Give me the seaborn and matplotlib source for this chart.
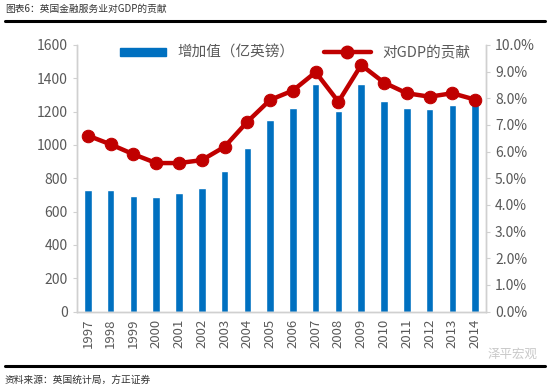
import numpy as np
import pandas as pd
import seaborn as sns
import matplotlib.pyplot as plt
from matplotlib.lines import Line2D
from matplotlib.patches import Patch
from matplotlib.ticker import FuncFormatter

years = ['1997', '1998', '1999', '2000', '2001', '2002', '2003', '2004', '2005',
         '2006', '2007', '2008', '2009', '2010', '2011', '2012', '2013', '2014']
value_added = [730, 730, 695, 690, 710, 740, 845, 980, 1150,
               1220, 1365, 1205, 1365, 1265, 1220, 1215, 1240, 1255]
gdp_share = [6.6, 6.27, 5.9, 5.57, 5.57, 5.68, 6.18, 7.12, 7.94,
             8.29, 8.98, 7.87, 9.25, 8.59, 8.19, 8.06, 8.19, 7.95]

df = pd.DataFrame({'year': years, 'value': value_added, 'share': gdp_share})
df['pos'] = np.arange(len(years))

sns.set_style('white')
plt.rcParams['font.family'] = ['Noto Sans CJK SC', 'DejaVu Sans']

blue = '#0070C0'
red = '#C00000'
grey = '#595959'
spine_c = '#D0D0D0'

f = plt.figure(figsize = (5.5, 3.9), dpi = 100)
ax = f.add_axes([77/550, 1 - 311.5/390, (486 - 77)/550, (311.5 - 45)/390])

sns.barplot(x = 'year', y = 'value', data = df, color = blue, saturation = 1, width = 0.33, ax = ax)
ax.set_ylim(0, 1600)
ax.set_yticks(range(0, 1601, 200))
ax.set_xlim(-0.48, len(years) - 0.52)
ax.set_xlabel('')
ax.set_ylabel('')
ax.tick_params(axis = 'y', labelsize = 10, colors = grey, length = 3, width = 0.8, direction = 'out', left = True)
ax.tick_params(axis = 'x', labelsize = 9.5, colors = grey, rotation = 90, length = 0, pad = 5)
ax.tick_params(axis = 'y', color = spine_c)

ax2 = ax.twinx()
sns.lineplot(x = 'pos', y = 'share', data = df, ax = ax2, color = red, linewidth = 3.2,
             marker = 'o', markersize = 9, markeredgecolor = red)
ax2.set_ylim(0, 10)
ax2.set_yticks(range(0, 11))
ax2.yaxis.set_major_formatter(FuncFormatter(lambda v, p: '%.1f%%' % v))
ax2.set_xlabel('')
ax2.set_ylabel('')
ax2.tick_params(axis = 'y', labelsize = 10, colors = grey, length = 3, width = 0.8, right = True)
ax2.tick_params(axis = 'y', color = spine_c)

for a in (ax, ax2):
    a.spines['top'].set_visible(False)
    for s in ('left', 'right', 'bottom'):
        a.spines[s].set_color(spine_c)
        a.spines[s].set_linewidth(1.0)

handles = [Patch(facecolor = blue, edgecolor = blue),
           Line2D([0], [0], color = red, linewidth = 3.2, marker = 'o', markersize = 9)]
labels = ['增加值（亿英镑）', '对GDP的贡献']
f.legend(handles, labels, loc = 'center', bbox_to_anchor = (295/550, 1 - 53/390), ncol = 2,
         frameon = False, fontsize = 10.5, handlelength = 3.2, handleheight = 0.5,
         columnspacing = 2.0, labelcolor = grey)

# header / footer
f.text(5/550, 1 - 9/390, '图表6：英国金融服务业对GDP的贡献', fontsize = 7, color = '#333333', va = 'center', ha = 'left')
f.add_artist(Line2D([5/550, 545/550], [1 - 21/390, 1 - 21/390], color = 'black', linewidth = 2.2))
f.add_artist(Line2D([5/550, 545/550], [1 - 366/390, 1 - 366/390], color = 'black', linewidth = 2.2))
f.text(5/550, 1 - 380/390, '资料来源：英国统计局，方正证券', fontsize = 7, color = '#333333', va = 'center', ha = 'left')
f.text(488/550, 1 - 354/390, '泽平宏观', fontsize = 9, color = '#BBBBBB', alpha = 0.8, va = 'center', ha = 'left')

f.savefig('out.png', dpi = 100)
